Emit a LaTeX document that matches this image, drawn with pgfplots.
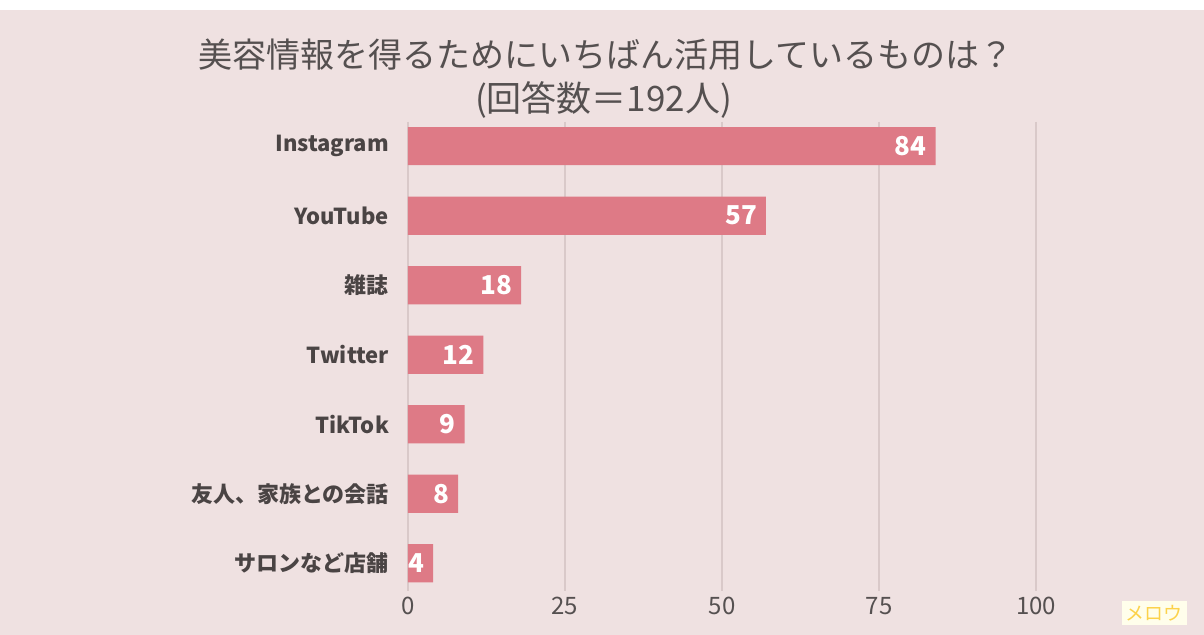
\documentclass[border=0pt]{standalone}
\usepackage{pgfplots}
\pgfplotsset{compat=1.18}
\usepackage{fontspec}
\setmainfont{Noto Sans CJK JP}
\definecolor{bgpink}{HTML}{EFE1E1}
\definecolor{barpink}{HTML}{DE7A86}
\definecolor{gridcol}{HTML}{D9C9C9}
\definecolor{txt}{HTML}{4A4444}
\definecolor{ticktxt}{HTML}{555050}
\begin{document}
\begin{tikzpicture}
% page: 1204x635 px at 0.5pt per px, axis box origin at px (408,591)
\useasboundingbox (-204pt,-22pt) rectangle (398pt,295.5pt);
\fill[bgpink] (-204pt,-22pt) rectangle (398pt,290.5pt);
\fill[white] (-204pt,290.5pt) rectangle (398pt,295.5pt);
\begin{axis}[
    scale only axis,
    width=376.8pt, height=234.6pt,
    xmin=0, xmax=120,
    ymin=-0.35, ymax=6.4,
    y dir=reverse,
    xtick={0,25,50,75,100},
    ytick={0,1,2,3,4,5,6},
    yticklabels={Instagram,YouTube,雑誌,Twitter,TikTok,友人、家族との会話,サロンなど店舗},
    xmajorgrids=true,
    grid style={gridcol, line width=0.6pt},
    axis line style={draw=none},
    major tick length=0pt,
    xticklabel style={font=\fontsize{12}{14}\selectfont, text=ticktxt, yshift=0.5pt},
    yticklabel style={font=\fontsize{11}{13}\selectfont\bfseries, text=txt, xshift=-6pt},
    /pgf/number format/assume math mode=true,
    xbar, bar width=0.55,
    nodes near coords,
    every node near coord/.append style={anchor=east, xshift=-1pt, text=white,
        font=\fontsize{13}{15}\selectfont\bfseries},
]
\addplot[fill=barpink, draw=none] coordinates {
    (84,0) (57,1) (18,2) (12,3) (9,4) (8,5) (4,6)
};
\end{axis}
\node[text=ticktxt, font=\fontsize{17}{20}\selectfont] at (99pt,268pt) {美容情報を得るためにいちばん活用しているものは？};
\node[text=ticktxt, font=\fontsize{17.5}{20}\selectfont] at (97.75pt,245.5pt) {(回答数＝192人)};
\node[fill=yellow!8!white, text=yellow!55!orange!70!white, inner sep=2pt,
      font=\fontsize{9.5}{11}\selectfont] at (373pt,-11pt) {メロウ};
\end{tikzpicture}
\end{document}
